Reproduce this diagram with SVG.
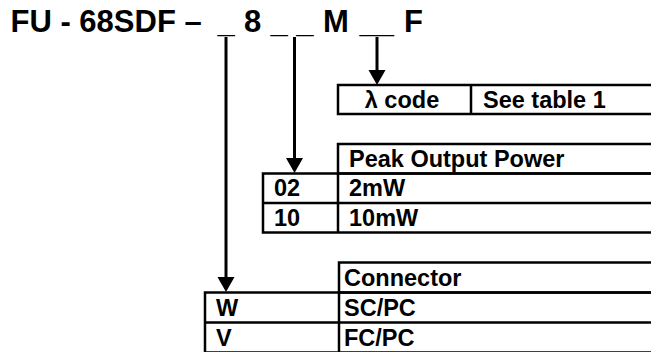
<svg xmlns="http://www.w3.org/2000/svg" width="651" height="352" viewBox="0 0 651 352">
<style>
.t{font-family:"Liberation Sans",Arial,sans-serif;font-weight:bold;fill:#000}
.title{font-size:31px}
.cell{font-size:23.5px}
.box{fill:none;stroke:#000;stroke-width:2.5}
.ln{stroke:#000;stroke-width:2.5}
.conn{stroke:#000;stroke-width:3;fill:none}
.head{fill:#000}
</style>
<rect width="651" height="352" fill="#fff"/>
<g id="title">
<text class="t title" y="32"><tspan x="10.5">FU - 68SDF –</tspan><tspan x="217.5">_</tspan><tspan x="244">8</tspan><tspan x="270.5">_ _</tspan><tspan x="323">M</tspan><tspan x="359.5">__</tspan><tspan x="404">F</tspan></text>
</g>
<g id="connectors">
<path class="conn" d="M377,37 V72"/>
<path class="head" d="M368.5,70 L385.5,70 L377,85 Z"/>
<path class="conn" d="M294.5,37 V160"/>
<path class="head" d="M286,158 L303,158 L294.5,173 Z"/>
<path class="conn" d="M226,37 V278"/>
<path class="head" d="M217.5,277 L234.5,277 L226,292 Z"/>
</g>
<g id="lambda-table">
<rect class="box" x="338" y="85" width="330" height="29"/>
<line class="ln" x1="471" y1="85" x2="471" y2="114"/>
<text class="t cell" x="402" y="108" text-anchor="middle">λ code</text>
<text class="t cell" x="483" y="108">See table 1</text>
</g>
<g id="power-table">
<rect class="box" x="338" y="144" width="330" height="29.5"/>
<rect class="box" x="263" y="173.5" width="405" height="59"/>
<line class="ln" x1="263" y1="203" x2="668" y2="203"/>
<line class="ln" x1="338" y1="173.5" x2="338" y2="232.5"/>
<text class="t cell" x="349" y="167">Peak Output Power</text>
<text class="t cell" x="274" y="196">02</text>
<text class="t cell" x="349" y="196">2mW</text>
<text class="t cell" x="274" y="226">10</text>
<text class="t cell" x="349" y="226">10mW</text>
</g>
<g id="connector-table">
<rect class="box" x="339" y="262.5" width="330" height="30"/>
<rect class="box" x="205" y="292.5" width="464" height="60"/>
<line class="ln" x1="205" y1="322.5" x2="669" y2="322.5"/>
<line class="ln" x1="339" y1="292.5" x2="339" y2="353"/>
<text class="t cell" x="344" y="286">Connector</text>
<text class="t cell" x="216" y="316">W</text>
<text class="t cell" x="344" y="316">SC/PC</text>
<text class="t cell" x="216" y="346">V</text>
<text class="t cell" x="344" y="346">FC/PC</text>
</g>
</svg>
